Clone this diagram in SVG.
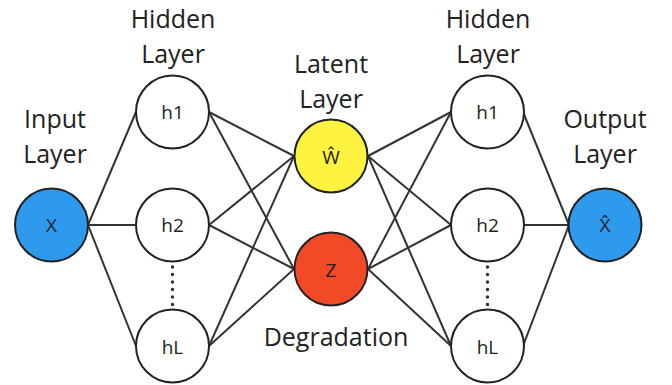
<svg xmlns="http://www.w3.org/2000/svg" width="672" height="385" viewBox="0 0 672 385">
<style>
.lbl{font-family:"Open Sans","Liberation Sans",sans-serif;font-size:25px;fill:#222;text-anchor:middle}
.nt{font-family:"Open Sans","Liberation Sans",sans-serif;font-size:19px;fill:#222;text-anchor:middle}
.n{stroke:#222;stroke-width:2}
.e{stroke:#333;stroke-width:2;fill:none}
.dot{stroke:#333;stroke-width:3.5;stroke-linecap:round;stroke-dasharray:0 7.5}
</style>
<rect width="672" height="385" fill="#fff"/>
<g id="labels">
<text class="lbl" x="55" y="128">Input</text><text class="lbl" x="55" y="163">Layer</text>
<text class="lbl" x="173" y="28">Hidden</text><text class="lbl" x="173" y="63">Layer</text>
<text class="lbl" x="331" y="73">Latent</text><text class="lbl" x="331" y="108">Layer</text>
<text class="lbl" x="336" y="346">Degradation</text>
<text class="lbl" x="488" y="28">Hidden</text><text class="lbl" x="488" y="63">Layer</text>
<text class="lbl" x="605" y="128">Output</text><text class="lbl" x="605" y="163">Layer</text>
</g>
<g id="connectors">
<line class="e" x1="88" y1="225" x2="136" y2="112"/>
<line class="e" x1="88" y1="225" x2="136" y2="225"/>
<line class="e" x1="88" y1="225" x2="136" y2="346"/>
<line class="e" x1="209" y1="112" x2="294" y2="156"/>
<line class="e" x1="209" y1="112" x2="294" y2="269"/>
<line class="e" x1="209" y1="225" x2="294" y2="156"/>
<line class="e" x1="209" y1="225" x2="294" y2="269"/>
<line class="e" x1="209" y1="346" x2="294" y2="156"/>
<line class="e" x1="209" y1="346" x2="294" y2="269"/>
<line class="e" x1="368" y1="156" x2="451" y2="112"/>
<line class="e" x1="368" y1="156" x2="451" y2="225"/>
<line class="e" x1="368" y1="156" x2="451" y2="346"/>
<line class="e" x1="368" y1="269" x2="451" y2="112"/>
<line class="e" x1="368" y1="269" x2="451" y2="225"/>
<line class="e" x1="368" y1="269" x2="451" y2="346"/>
<line class="e" x1="523" y1="112" x2="569" y2="225"/>
<line class="e" x1="523" y1="225" x2="569" y2="225"/>
<line class="e" x1="523" y1="346" x2="569" y2="225"/>
<line class="dot" x1="172.5" y1="267" x2="172.5" y2="307"/>
<line class="dot" x1="487.5" y1="267" x2="487.5" y2="307"/>
</g>
<g id="node-x"><circle class="n" cx="51.5" cy="225" r="36.5" fill="#2d9aee"/><text class="nt" x="51.5" y="232">X</text></g>
<g id="node-h1-left"><circle class="n" cx="172.5" cy="112" r="36.5" fill="#fff"/><text class="nt" x="172.5" y="119">h1</text></g>
<g id="node-h2-left"><circle class="n" cx="172.5" cy="225" r="36.5" fill="#fff"/><text class="nt" x="172.5" y="232">h2</text></g>
<g id="node-hL-left"><circle class="n" cx="172.5" cy="346" r="36.5" fill="#fff"/><text class="nt" x="172.5" y="354">hL</text></g>
<g id="node-w"><circle class="n" cx="331" cy="156" r="36.5" fill="#fef33e"/><text class="nt" x="331" y="164">Ŵ</text></g>
<g id="node-z"><circle class="n" cx="331" cy="269" r="36.5" fill="#f24a26"/><text class="nt" x="331" y="277">Z</text></g>
<g id="node-h1-right"><circle class="n" cx="487.5" cy="112" r="36.5" fill="#fff"/><text class="nt" x="487.5" y="119">h1</text></g>
<g id="node-h2-right"><circle class="n" cx="487.5" cy="225" r="36.5" fill="#fff"/><text class="nt" x="487.5" y="232">h2</text></g>
<g id="node-hL-right"><circle class="n" cx="487.5" cy="346" r="36.5" fill="#fff"/><text class="nt" x="487.5" y="354">hL</text></g>
<g id="node-xhat"><circle class="n" cx="605" cy="225" r="36.5" fill="#2d9aee"/><text class="nt" x="605" y="232">X&#x302;</text></g>
</svg>
